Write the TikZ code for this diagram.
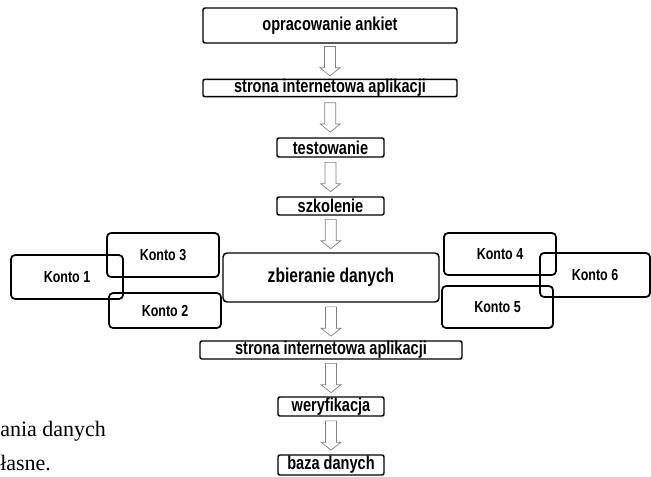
\documentclass[tikz,border=0pt]{standalone}
\usepackage{fontspec}
\setmainfont{Liberation Serif}
\newfontfamily\flowfont{Liberation Sans}[FakeStretch=0.78]
\usetikzlibrary{calc}

\tikzset{
    strzalka/.pic={
        \draw[gray, line width=0.5pt, fill=white, line join=miter]
            (-4.1pt,11pt) -- (4.1pt,11pt) -- (4.1pt,-5pt) -- (7.5pt,-5pt)
            -- (0pt,-11pt) -- (-7.5pt,-5pt) -- (-4.1pt,-5pt) -- cycle;
    }
}

\begin{document}
\begin{tikzpicture}[
    x=0.75pt, y=-0.75pt,
    etap/.style={rectangle, draw, line width=1.1pt, rounded corners=1.5pt, inner sep=0pt, align=center, font=\flowfont\bfseries\fontsize{14}{14}\selectfont},
    konto/.style={rectangle, draw, line width=1.3pt, rounded corners=3pt, minimum width=84pt, inner sep=0pt, font=\flowfont\bfseries\fontsize{12}{12}\selectfont}
]
    \useasboundingbox (0,0) rectangle (651,476);

    % Etapy
    \node[etap, minimum width=190.5pt, minimum height=26.25pt] (ankiety) at (330,25.5) {opracowanie ankiet};
    \node[etap, minimum width=190.5pt, minimum height=12pt] (strona1) at (330,88) {strona internetowa aplikacji};
    \node[etap, minimum width=80.25pt, minimum height=14.25pt] (test) at (330.5,147.5) {testowanie};
    \node[etap, minimum width=80.25pt, minimum height=13.5pt] (szkol) at (330.5,206) {szkolenie};
    \node[etap, minimum width=162pt, minimum height=36.75pt, rounded corners=3pt, font=\flowfont\bfseries\fontsize{15}{15}\selectfont] (zbier) at (331,277.5) {zbieranie danych};
    \node[etap, minimum width=196.5pt, minimum height=13.5pt] (strona2) at (331,350) {strona internetowa aplikacji};
    \node[etap, minimum width=79.5pt, minimum height=14.25pt] (weryf) at (331,406.5) {weryfikacja};
    \node[etap, minimum width=79.5pt, minimum height=15pt] (baza) at (331,465) {baza danych};

    % Konta
    \node[konto, minimum height=33pt] (k1) at (67,277) {Konto 1};
    \node[konto, minimum height=33pt] (k3) at (163,255) {Konto 3};
    \node[konto, minimum height=26.25pt] (k2) at (165,310.5) {Konto 2};
    \node[konto, minimum height=31.5pt] (k4) at (500,254) {Konto 4};
    \node[konto, minimum height=33pt, minimum width=82.5pt] (k6) at (595,275) {Konto 6};
    \node[konto, minimum height=31.5pt, minimum width=83.25pt] (k5) at (497.5,307) {Konto 5};

    % Strzalki
    \pic (s1) at ($(ankiety.south)!0.5!(strona1.north)$) {strzalka};
    \pic (s2) at ($(strona1.south)!0.5!(test.north)$) {strzalka};
    \pic (s3) at ($(test.south)!0.5!(szkol.north)$) {strzalka};
    \pic (s4) at ($(szkol.south)!0.5!(zbier.north)$) {strzalka};
    \pic (s5) at ($(zbier.south)!0.5!(strona2.north)$) {strzalka};
    \pic (s6) at ($(strona2.south)!0.5!(weryf.north)$) {strzalka};
    \pic (s7) at ($(weryf.south)!0.5!(baza.north)$) {strzalka};

    % Podpis (fragment)
    \node[anchor=base west, inner sep=0pt, font=\fontsize{16.5}{16.5}\selectfont] (podpis1) at (0,436) {ania danych};
    \node[anchor=base west, inner sep=0pt, font=\fontsize{16.5}{16.5}\selectfont] (podpis2) at (0,470) {łasne.};
\end{tikzpicture}
\end{document}
